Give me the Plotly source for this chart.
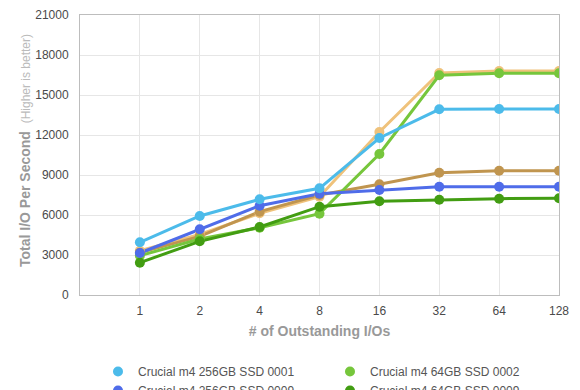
import plotly.graph_objects as go

categories = ["1", "2", "4", "8", "16", "32", "64", "128"]

series_names = [
    "Crucial m4 256GB SSD 0001",
    "Crucial m4 64GB SSD 0002",
    "Crucial m4 256GB SSD 0009",
    "Crucial m4 64GB SSD 0009",
    "Crucial m4 128GB SSD 0001",
    "Crucial m4 128GB SSD 0009",
]
ssd256_0001 = [3950, 5925, 7175, 8000, 11775, 13925, 13950, 13950]
ssd64_0002 = [2950, 4200, 5050, 6100, 10575, 16475, 16625, 16625]
ssd256_0009 = [3150, 4925, 6700, 7600, 7875, 8125, 8125, 8125]
ssd64_0009 = [2425, 4025, 5100, 6625, 7025, 7150, 7225, 7250]
ssd128_0001 = [3325, 4550, 6125, 7375, 12225, 16650, 16800, 16800]
ssd128_0009 = [3175, 4400, 6250, 7500, 8300, 9175, 9325, 9325]
series_values = [ssd256_0001, ssd64_0002, ssd256_0009, ssd64_0009, ssd128_0001, ssd128_0009]
colors = ["#4cbbea", "#76c63c", "#4f6ce9", "#429d12", "#efc27b", "#c0954f"]

y_ticks = [0, 3000, 6000, 9000, 12000, 15000, 18000, 21000]
y_tick_labels = ["0", "3000", "6000", "9000", "12000", "15000", "18000", "21000"]

xidx = list(range(len(categories)))

fig = go.Figure()
draw_order = [4, 5, 1, 3, 2, 0]
for i in draw_order:
    fig.add_trace(go.Scatter(
        x=xidx, y=series_values[i], mode="lines",
        line=dict(color=colors[i], width=3),
        showlegend=False, hoverinfo="skip",
    ))
for i in draw_order:
    fig.add_trace(go.Scatter(
        x=xidx, y=series_values[i], mode="markers", name=series_names[i],
        marker=dict(color=colors[i], size=10),
        legendrank=i + 1,
    ))

font_family = "Liberation Sans, Arial, sans-serif"
fig.update_layout(
    width=580, height=390,
    margin=dict(l=80, r=21, t=15, b=95, autoexpand=False),
    paper_bgcolor="white", plot_bgcolor="white",
    font=dict(family=font_family, size=12, color="#4a4a4a"),
    xaxis=dict(
        range=[-1, 7], tickvals=xidx, ticktext=categories,
        showgrid=True, gridcolor="#e6e6e6", gridwidth=1,
        showline=True, linecolor="#bdbdbd", linewidth=1, mirror=True,
        zeroline=False, ticks="", ticklabelstandoff=5,
        tickfont=dict(size=12, color="#4a4a4a"),
        title=dict(text="<b># of Outstanding I/Os</b>",
                   font=dict(size=14, color="#999999"), standoff=8),
    ),
    yaxis=dict(
        range=[0, 21000], tickvals=y_ticks, ticktext=y_tick_labels,
        showgrid=True, gridcolor="#e6e6e6", gridwidth=1,
        showline=True, linecolor="#bdbdbd", linewidth=1, mirror=True,
        zeroline=False, ticks="", ticklabelstandoff=8,
        tickfont=dict(size=12, color="#4a4a4a"),
    ),
    annotations=[dict(
        text="<b>Total I/O Per Second</b>  <span style='font-size:12px;color:#bbbbbb'>(Higher is better)</span>",
        font=dict(size=14, color="#999999"),
        textangle=-90, xref="paper", yref="paper",
        x=(25 - 80) / 479, y=(295 - 151) / 280,
        xanchor="center", yanchor="middle", showarrow=False,
    )],
    legend=dict(
        orientation="h", xref="container", yref="container",
        x=98 / 580, xanchor="left", y=1 - 357 / 390, yanchor="top",
        entrywidth=187, font=dict(size=12, color="#555555"),
        itemclick=False, traceorder="normal",
    ),
    showlegend=True,
)

fig.write_html("out.html", config={"displayModeBar": False},
               post_script="document.body.style.margin='0';")
